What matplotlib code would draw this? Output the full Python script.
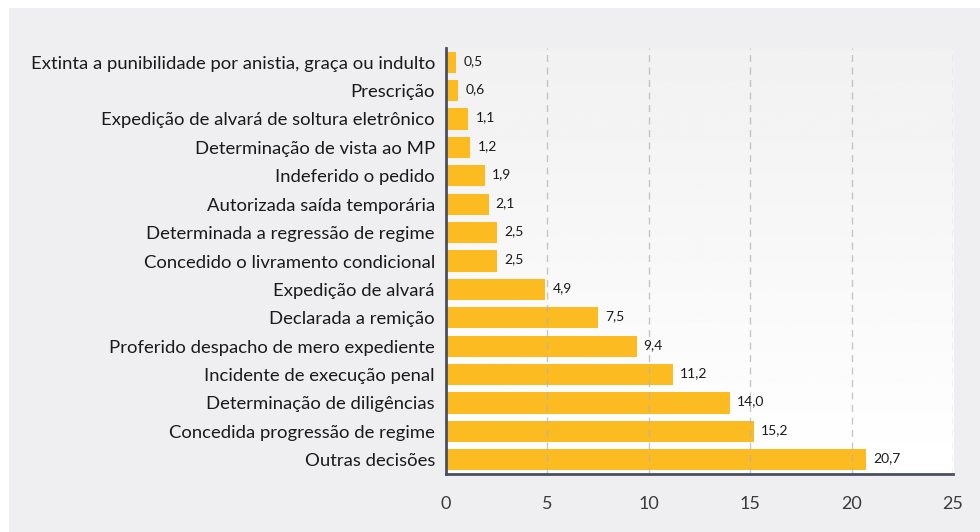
import numpy as np
import matplotlib.pyplot as plt
from matplotlib.patches import Rectangle

categories = [
    'Extinta a punibilidade por anistia, graça ou indulto',
    'Prescrição',
    'Expedição de alvará de soltura eletrônico',
    'Determinação de vista ao MP',
    'Indeferido o pedido',
    'Autorizada saída temporária',
    'Determinada a regressão de regime',
    'Concedido o livramento condicional',
    'Expedição de alvará',
    'Declarada a remição',
    'Proferido despacho de mero expediente',
    'Incidente de execução penal',
    'Determinação de diligências',
    'Concedida progressão de regime',
    'Outras decisões',
]
values = [0.5, 0.6, 1.1, 1.2, 1.9, 2.1, 2.5, 2.5, 4.9, 7.5, 9.4, 11.2, 14.0, 15.2, 20.7]
xticks = [0, 5, 10, 15, 20, 25]

plt.rcParams['font.family'] = ['Lato', 'DejaVu Sans']

fig = plt.figure(figsize=(9.8, 5.32), dpi=100, facecolor='white')
fig.patches.append(Rectangle((9 / 980, 0), 1, 1 - 8 / 532, transform=fig.transFigure,
                             facecolor='#efeff2', edgecolor='none', zorder=-10))

ax = fig.add_axes([446 / 980, 58 / 532, 507 / 980, 426 / 532])
ax.set_facecolor('none')

# soft vertical gradient behind the bars
grad = np.linspace(0.945, 1.0, 256).reshape(-1, 1)
ax.imshow(grad, extent=[0, 1, 0, 1], transform=ax.transAxes, aspect='auto',
          cmap='gray', vmin=0, vmax=1, origin='upper', zorder=0)

y = np.arange(len(categories))
ax.barh(y, values, height=0.74, color='#fdbb22', zorder=2)
for yi, v in zip(y, values):
    ax.text(v + 0.35, yi - 0.05, f'{v:.1f}'.replace('.', ','), va='center', ha='left',
            fontsize=10, color='#1a1a1a', zorder=4)

ax.set_xlim(0, 25)
ax.set_ylim(len(categories) - 0.5, -0.5)
ax.set_xticks(xticks)
ax.set_yticks(y)
ax.set_yticklabels(categories, fontsize=13.3, color='#1a1a1a')
ax.tick_params(axis='x', length=0, pad=16, labelsize=13, labelcolor='#3a3a3a')
ax.tick_params(axis='y', length=0, pad=8)

ax.grid(axis='x', color='#b0b0b0', linestyle=(0, (5, 4)), linewidth=1, alpha=0.7, zorder=3)
ax.set_axisbelow(False)
for s in ['top', 'right']:
    ax.spines[s].set_visible(False)
for s in ['left', 'bottom']:
    ax.spines[s].set_color('#4a5060')
    ax.spines[s].set_linewidth(2)
    ax.spines[s].set_zorder(5)

fig.savefig('out.png', dpi=100, facecolor=fig.get_facecolor())
